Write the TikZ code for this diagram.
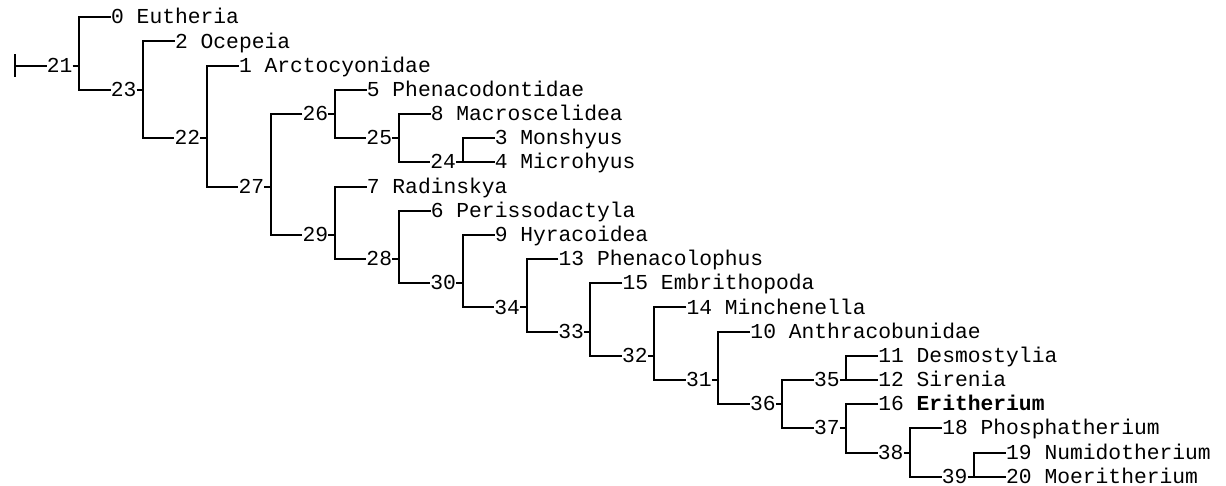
\documentclass[tikz,border=0pt]{standalone}
\usepackage{fontspec}
\newfontfamily\treefont{Liberation Mono}
\begin{document}
\begin{tikzpicture}[
  branch/.style={line width=2pt, line join=miter},
  labelfont/.style={font=\treefont\fontsize{21.31pt}{24pt}\selectfont, inner sep=0pt, text height=13.2pt, text depth=0pt},
  taxon/.style={labelfont, anchor=west},
  clade/.style={labelfont, anchor=east},
]
\path[use as bounding box] (0,0) rectangle (1226pt,-486pt);
\begin{scope}[shift={(15.07pt,-17.3pt)}, x=12.786pt, y=-24.18pt]
  % internal nodes: number / column of the vertical bar / row
  \foreach \n/\c/\r in {21/5/2, 23/10/3, 22/15/5, 27/20/7, 26/25/4, 25/30/5,
      24/35/6, 29/25/9, 28/30/10, 30/35/11, 34/40/12, 33/45/13, 32/50/14,
      31/55/15, 36/60/16, 35/65/15, 37/65/17, 38/70/18, 39/75/19} {
    \coordinate (v\n) at (\c,\r);
    \node[clade] (n\n) at (\c-0.5,\r) {\n};
  }
  % terminal taxa
  \node[taxon] (t0)  at (7.5,0)   {0 Eutheria};
  \node[taxon] (t2)  at (12.5,1)  {2 Ocepeia};
  \node[taxon] (t1)  at (17.5,2)  {1 Arctocyonidae};
  \node[taxon] (t5)  at (27.5,3)  {5 Phenacodontidae};
  \node[taxon] (t8)  at (32.5,4)  {8 Macroscelidea};
  \node[taxon] (t3)  at (37.5,5)  {3 Monshyus};
  \node[taxon] (t4)  at (37.5,6)  {4 Microhyus};
  \node[taxon] (t7)  at (27.5,7)  {7 Radinskya};
  \node[taxon] (t6)  at (32.5,8)  {6 Perissodactyla};
  \node[taxon] (t9)  at (37.5,9)  {9 Hyracoidea};
  \node[taxon] (t13) at (42.5,10) {13 Phenacolophus};
  \node[taxon] (t15) at (47.5,11) {15 Embrithopoda};
  \node[taxon] (t14) at (52.5,12) {14 Minchenella};
  \node[taxon] (t10) at (57.5,13) {10 Anthracobunidae};
  \node[taxon] (t11) at (67.5,14) {11 Desmostylia};
  \node[taxon] (t12) at (67.5,15) {12 Sirenia};
  \node[taxon] (t16) at (67.5,16) {16 \textbf{Eritherium}};
  \node[taxon] (t18) at (72.5,17) {18 Phosphatherium};
  \node[taxon] (t19) at (77.5,18) {19 Numidotherium};
  \node[taxon] (t20) at (77.5,19) {20 Moeritherium};
  % root
  \coordinate (root) at (0,2);
  \draw[branch] ([yshift=11.6pt]root) -- ([yshift=-11.6pt]root);
  \draw[branch] (root) -- (n21.west);
  % brackets: parent / upper child / lower child
  \foreach \p/\a/\b in {21/t0/n23, 23/t2/n22, 22/t1/n27, 27/n26/n29,
      26/t5/n25, 25/t8/n24, 24/t3/t4, 29/t7/n28, 28/t6/n30, 30/t9/n34,
      34/t13/n33, 33/t15/n32, 32/t14/n31, 31/t10/n36, 36/n35/n37,
      35/t11/t12, 37/t16/n38, 38/t18/n39, 39/t19/t20} {
    \draw[branch] (\a.west) -| (v\p) |- (\b.west);
    \draw[branch] (n\p.east) -- (v\p);
  }
\end{scope}
\end{tikzpicture}
\end{document}
